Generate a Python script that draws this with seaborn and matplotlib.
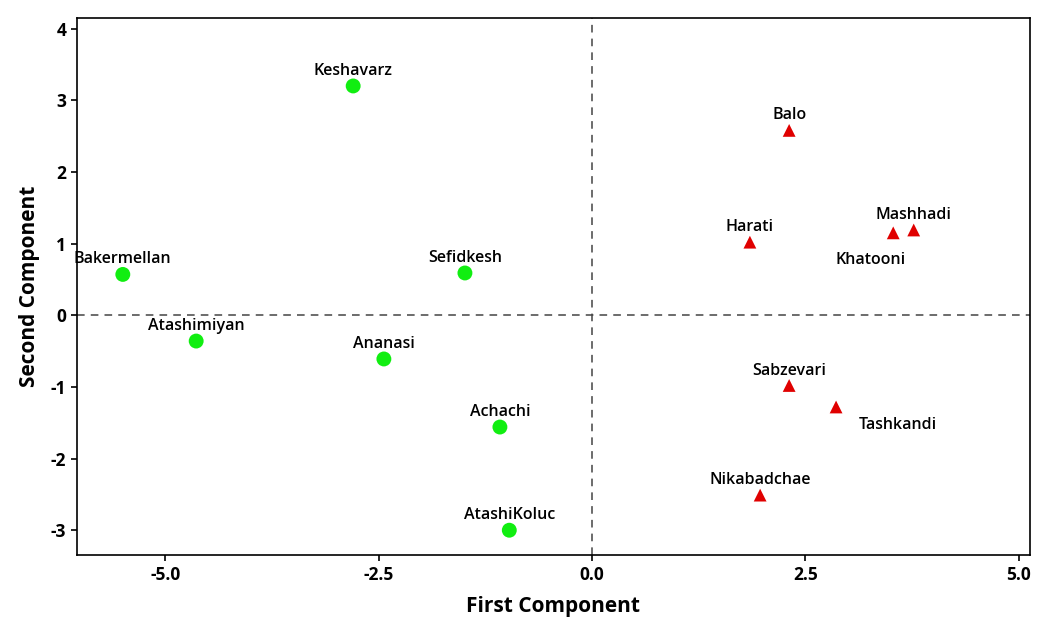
import matplotlib
matplotlib.use("Agg")
import matplotlib.pyplot as plt
import seaborn as sns
import pandas as pd

names = ["Keshavarz", "Bakermellan", "Sefidkesh", "Atashimiyan", "Ananasi", "Achachi", "AtashiKoluc",
         "Balo", "Harati", "Khatooni", "Mashhadi", "Sabzevari", "Tashkandi", "Nikabadchae"]
first = [-2.80, -5.50, -1.49, -4.64, -2.44, -1.08, -0.97,
         2.31, 1.85, 3.53, 3.77, 2.31, 2.86, 1.97]
second = [3.20, 0.57, 0.59, -0.36, -0.61, -1.56, -3.00,
          2.58, 1.02, 1.15, 1.19, -0.98, -1.28, -2.51]
group = ["A"] * 7 + ["B"] * 7
xticks = [-5.0, -2.5, 0.0, 2.5, 5.0]
yticks = [-3, -2, -1, 0, 1, 2, 3, 4]

df = pd.DataFrame({"name": names, "x": first, "y": second, "group": group})

sns.set_style("white")
plt.rcParams['font.family'] = ['Open Sans', 'DejaVu Sans']
plt.rcParams['text.color'] = 'black'
plt.rcParams['axes.labelcolor'] = 'black'
plt.rcParams['axes.unicode_minus'] = False

fig = plt.figure(figsize=(10.37, 6.17), dpi=100)
ax = fig.add_axes([0.074, 0.10, 0.919, 0.871])

ax.axhline(0, color="#444444", ls=(0, (5, 4)), lw=1.1, zorder=1)
ax.axvline(0, color="#444444", ls=(0, (5, 4)), lw=1.1, zorder=1)

sns.scatterplot(data=df, x="x", y="y", hue="group", style="group",
                palette={"A": "#11ee11", "B": "#e00000"},
                markers={"A": "o", "B": "^"},
                s=[115 if g == "A" else 85 for g in group],
                edgecolor="none", legend=False, ax=ax, zorder=3)

offsets = {"Khatooni": (-0.27, -0.38), "Tashkandi": (0.27, -0.25)}
for n, x, y in zip(names, first, second):
    if n in offsets:
        dx, dy = offsets[n]
        ax.text(x + dx, y + dy, n, ha="left" if n == "Tashkandi" else "center",
                va="center", fontsize=11.5, fontweight="semibold", color="black")
    else:
        ax.annotate(n, (x, y), xytext=(0, 5), textcoords="offset points",
                    ha="center", va="bottom", fontsize=11.5, fontweight="semibold", color="black")

ax.set_xlim(-6.04, 5.13)
ax.set_ylim(-3.35, 4.15)
ax.set_xticks(xticks)
ax.set_xticklabels([f"{v:.1f}" for v in xticks])
ax.set_yticks(yticks)
ax.set_yticklabels([str(v) for v in yticks])
ax.tick_params(axis="both", direction="out", length=4, width=1.2, colors="black",
               labelsize=12.5, bottom=True, left=True)
for lab in ax.get_xticklabels() + ax.get_yticklabels():
    lab.set_fontweight("bold")
for sp in ax.spines.values():
    sp.set_color("black")
    sp.set_linewidth(1.2)

ax.set_xlabel("First Component", fontsize=15, fontweight="bold", labelpad=9)
ax.set_ylabel("Second Component", fontsize=15, fontweight="bold", labelpad=8)

fig.savefig("out.png", dpi=100)
